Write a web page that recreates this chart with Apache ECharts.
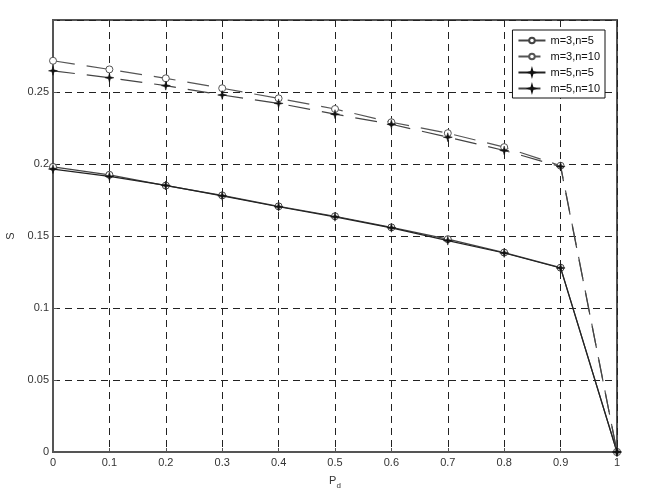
<!DOCTYPE html>
<html><head><meta charset="utf-8">
<script src="https://cdn.jsdelivr.net/npm/echarts@6/dist/echarts.min.js"></script>
<style>html,body{margin:0;padding:0;background:#fff}#c{width:654px;height:490px}</style>
</head><body><div id="c"></div>
<script>
const xValues = [0, 0.1, 0.2, 0.3, 0.4, 0.5, 0.6, 0.7, 0.8, 0.9, 1];
const seriesNames = ['m=3,n=5', 'm=3,n=10', 'm=5,n=5', 'm=5,n=10'];
const m3n5  = [0.198, 0.1925, 0.185, 0.1782, 0.1706, 0.1637, 0.156, 0.1478, 0.1385, 0.128, 0];
const m3n10 = [0.2717, 0.2657, 0.2595, 0.2526, 0.2456, 0.2382, 0.229, 0.2214, 0.2117, 0.1988, 0];
const m5n5  = [0.1965, 0.1914, 0.1851, 0.1779, 0.1703, 0.1633, 0.1557, 0.1468, 0.1382, 0.1278, 0];
const m5n10 = [0.2647, 0.2599, 0.2544, 0.2479, 0.2421, 0.2346, 0.2276, 0.2186, 0.2094, 0.1982, 0];
const yTicks = [0, 0.05, 0.1, 0.15, 0.2, 0.25];

const FONT = 'Liberation Sans';
const star = 'path://M0,-10 L2.2,-2.2 L10,0 L2.2,2.2 L0,10 L-2.2,2.2 L-10,0 L-2.2,-2.2 Z';
const pts = arr => xValues.map((x, i) => [x, arr[i]]);

function mk(name, data, dashed, isStar, color) {
  return {
    name, type: 'line', data: pts(data),
    symbol: isStar ? star : 'circle',
    symbolSize: isStar ? 9 : 7,
    showAllSymbol: true,
    lineStyle: { color, width: 1.2, type: dashed ? [22, 12] : 'solid' },
    itemStyle: isStar ? { color: '#111', borderColor: '#111', borderWidth: 0.5 }
                      : { color: '#fff', borderColor: color, borderWidth: 1 },
    emphasis: { disabled: true },
    z: isStar ? 3 : 2
  };
}

const chart = echarts.init(document.getElementById('c'), null, { renderer: 'canvas' });
chart.setOption({
  animation: false,
  backgroundColor: '#fff',
  textStyle: { fontFamily: FONT },
  grid: { left: 53, right: 37, top: 20, bottom: 38, containLabel: false, outerBoundsMode: 'none',
          show: true, borderColor: '#555', borderWidth: 2, backgroundColor: 'transparent' },
  legend: {
    right: 49, top: 30, orient: 'vertical',
    data: seriesNames,
    itemWidth: 27, itemHeight: 7, itemGap: 5,
    backgroundColor: '#fff', borderColor: '#111', borderWidth: 1,
    padding: [5, 5, 4, 5],
    textStyle: { fontFamily: FONT, fontSize: 11, color: '#111' }
  },
  xAxis: {
    type: 'value', min: 0, max: 1, interval: 0.1,
    name: 'P{s|d}', nameLocation: 'middle', nameGap: 20,
    nameTextStyle: { fontFamily: FONT, fontSize: 11, color: '#333', rich: { s: { fontSize: 8, verticalAlign: 'bottom', padding: [10, 0, 0, 0], color: '#333' } } },
    axisLine: { show: true, lineStyle: { color: '#555', width: 2 } },
    axisTick: { show: true, inside: true, length: 4, lineStyle: { color: '#555' } },
    axisLabel: { fontFamily: FONT, fontSize: 11, color: '#333', margin: 5 },
    splitLine: { show: true, lineStyle: { color: '#222', type: [7, 5], width: 1 } }
  },
  yAxis: {
    type: 'value', min: 0, max: 0.3, interval: 0.05,
    name: 'S', nameLocation: 'middle', nameGap: 33, nameRotate: 90,
    nameTextStyle: { fontFamily: FONT, fontSize: 11, color: '#333' },
    axisLine: { show: true, lineStyle: { color: '#555', width: 2 } },
    axisTick: { show: true, inside: true, length: 4, lineStyle: { color: '#555' } },
    axisLabel: { fontFamily: FONT, fontSize: 11, color: '#333', margin: 4,
      formatter: v => { const t = yTicks.find(y => Math.abs(y - v) < 1e-9); return t === undefined ? '' : String(t); } },
    splitLine: { show: true, lineStyle: { color: '#222', type: [7, 5], width: 1 } }
  },
  series: [
    mk('m=3,n=5', m3n5, false, false, '#444'),
    mk('m=3,n=10', m3n10, true, false, '#555'),
    mk('m=5,n=5', m5n5, false, true, '#222'),
    mk('m=5,n=10', m5n10, true, true, '#444')
  ]
});
</script></body></html>
